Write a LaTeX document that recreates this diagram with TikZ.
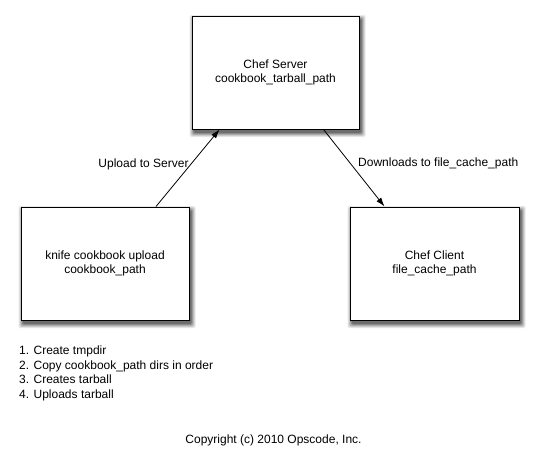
\documentclass[tikz,border=0pt]{standalone}
\usepackage{fontspec}
\setmainfont{Liberation Sans}
\usetikzlibrary{arrows.meta,backgrounds}
\begin{document}
\begin{tikzpicture}[x=1pt,y=-1pt,
  box/.style={draw=black,line width=1pt,fill=white,minimum width=#1,minimum height=113pt,
    align=center,font=\fontsize{12}{14}\selectfont,inner sep=0pt},
  conn/.style={line width=0.8pt,-{Latex[length=9pt,width=6pt]}},
  lbl/.style={font=\fontsize{12}{14}\selectfont,inner sep=0pt}]
\useasboundingbox (0,0) rectangle (539,455);
\node[box=167pt] (server) at (275.5,72.5) {Chef Server\\cookbook\_tarball\_path};
\node[box=168pt] (knife) at (105,263.5) {knife cookbook upload\\cookbook\_path};
\node[box=169pt] (client) at (434.5,263.5) {Chef Client\\file\_cache\_path};
\begin{scope}[on background layer]
\fill[white] (0,0) rectangle (539,455);
\foreach \n in {server,knife,client}{
  \foreach \s/\o in {4/0.09,3/0.11,2/0.14,1/0.18,0/0.24}{
    \fill[black,opacity=\o,rounded corners=1.5pt]
      ([xshift=-\s pt+2pt,yshift=-\s pt-3.5pt]\n.south west) rectangle ([xshift=\s pt+2pt,yshift=\s pt-3.5pt]\n.north east);
  }
}
\end{scope}
\draw[conn] ([xshift=51pt]knife.north) -- ([xshift=-56pt]server.south);
\draw[conn] ([xshift=48pt]server.south) -- ([xshift=-50pt]client.north);
\node[lbl] (up) at (143.5,164) {Upload to Server};
\node[lbl,anchor=west] (down) at (358,163) {Downloads to file\_cache\_path};
\node[lbl,anchor=north west,align=left,font=\fontsize{12}{14.5}\selectfont] (steps) at (19,346)
  {1. Create tmpdir\\2. Copy cookbook\_path dirs in order\\3. Creates tarball\\4. Uploads tarball};
\node[lbl] (copy) at (273.5,440) {Copyright (c) 2010 Opscode, Inc.};
\end{tikzpicture}
\end{document}
